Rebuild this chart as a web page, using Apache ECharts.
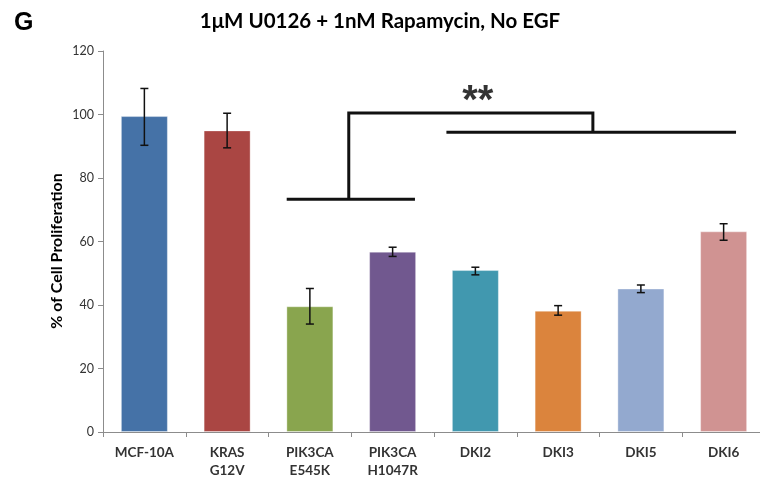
<!DOCTYPE html>
<html>
<head>
<meta charset="utf-8">
<script src="https://cdn.jsdelivr.net/npm/echarts@6/dist/echarts.min.js"></script>
<style>html,body{margin:0;padding:0;background:#fff;}#c{width:760px;height:485px;}</style>
</head>
<body>
<div id="c"></div>
<script>
const categories = ['MCF-10A', 'KRAS\nG12V', 'PIK3CA\nE545K', 'PIK3CA\nH1047R', 'DKI2', 'DKI3', 'DKI5', 'DKI6'];
const meanValues = [99.5, 95.0, 39.6, 56.8, 51.0, 38.2, 45.2, 63.2];
const errLow = [90.3, 89.5, 34.0, 55.3, 49.5, 36.8, 43.9, 60.4];
const errHigh = [108.2, 100.4, 45.2, 58.2, 51.9, 39.8, 46.3, 65.6];
const barColors = ['#4572A7', '#AA4643', '#89A54E', '#71588F', '#4198AF', '#DB843D', '#93A9CF', '#D09392'];
const yTicks = [0, 20, 40, 60, 80, 100, 120];
// significance bracket (x in category-index units, y in % units)
const bracketLeft = [[1.72, 73.3], [3.27, 73.3]];
const bracketConnector = [[2.47, 73.3], [2.47, 100.5], [5.42, 100.5], [5.42, 94.4]];
const bracketRight = [[3.65, 94.4], [7.15, 94.4]];
const starPoint = [4.03, 104];
const starText = '**';

const chart = echarts.init(document.getElementById('c'), null, {renderer: 'canvas'});
const FONT = 'Lato, "Open Sans", sans-serif';

chart.setOption({
  animation: false,
  backgroundColor: '#ffffff',
  title: [
    {text: 'G', left: 9, top: 6, textStyle: {fontFamily: '"Liberation Sans", Arial, sans-serif', fontSize: 25, fontWeight: 'bold', color: '#000'}},
    {text: '1μM U0126 + 1nM Rapamycin, No EGF', left: 'center', top: 6, textStyle: {fontFamily: FONT, fontSize: 20.5, fontWeight: 'bold', color: '#000'}}
  ],
  graphic: [{
    type: 'text', x: 57, y: 251, rotation: Math.PI / 2,
    style: {text: '% of Cell Proliferation', fill: '#000', font: 'bold 16px ' + FONT, align: 'center', verticalAlign: 'middle'}
  }],
  grid: {left: 103, right: -5, top: 51, bottom: 53, outerBoundsMode: 'none', containLabel: false},
  xAxis: [{
    type: 'category', data: categories, boundaryGap: true,
    axisLine: {show: true, onZero: false, lineStyle: {color: '#8c8c8c', width: 1}},
    axisTick: {show: true, length: 5, interval: 0, lineStyle: {color: '#8c8c8c'}},
    axisLabel: {interval: 0, margin: 12, fontFamily: FONT, fontWeight: 'bold', fontSize: 13.5, color: '#333', lineHeight: 18},
    splitLine: {show: false}
  }, {
    type: 'value', min: -0.5, max: 7.5, show: false
  }],
  yAxis: {
    type: 'value', min: yTicks[0], max: yTicks[yTicks.length - 1], interval: 20,
    axisLine: {show: true, onZero: false, lineStyle: {color: '#8c8c8c', width: 1}},
    axisTick: {show: true, length: 5, lineStyle: {color: '#8c8c8c'}},
    axisLabel: {margin: 9, fontFamily: FONT, fontSize: 12.5, color: '#333'},
    splitLine: {show: false}
  },
  series: [
    {
      type: 'bar', xAxisIndex: 0, barWidth: 47,
      data: meanValues.map((v, i) => ({value: v, itemStyle: {color: barColors[i]}})),
      itemStyle: {borderColor: 'rgba(255,255,255,0.35)', borderWidth: 1}
    },
    {
      type: 'custom', xAxisIndex: 0, z: 5,
      data: categories.map((c, i) => [i, errLow[i], errHigh[i]]),
      renderItem: function (params, api) {
        const top = api.coord([api.value(0), api.value(2)]);
        const bot = api.coord([api.value(0), api.value(1)]);
        const hw = 4;
        const st = {stroke: '#111', lineWidth: 1.5};
        return {type: 'group', children: [
          {type: 'line', shape: {x1: top[0], y1: top[1], x2: bot[0], y2: bot[1]}, style: st},
          {type: 'line', shape: {x1: top[0] - hw, y1: top[1], x2: top[0] + hw, y2: top[1]}, style: st},
          {type: 'line', shape: {x1: bot[0] - hw, y1: bot[1], x2: bot[0] + hw, y2: bot[1]}, style: st}
        ]};
      }
    },
    {
      type: 'lines', coordinateSystem: 'cartesian2d', xAxisIndex: 1, polyline: true, z: 6,
      lineStyle: {color: '#111', width: 3, opacity: 1},
      data: [{coords: bracketLeft}, {coords: bracketConnector}, {coords: bracketRight}]
    },
    {
      type: 'scatter', xAxisIndex: 1, symbolSize: 0, z: 7,
      data: [starPoint],
      label: {show: true, position: 'inside', formatter: starText, fontFamily: '"Liberation Sans", Arial, sans-serif', fontWeight: 'bold', fontSize: 40, color: '#000'}
    }
  ]
});
</script>
</body>
</html>
